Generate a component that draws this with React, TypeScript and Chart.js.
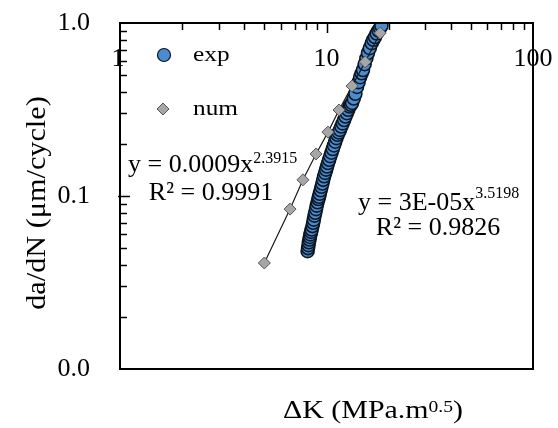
import { useEffect, useRef } from 'react';
import { Chart, registerables } from 'chart.js';

Chart.register(...registerables);

// Crack growth rate vs. stress intensity factor range
const expDK = [8.10, 8.14, 8.18, 8.22, 8.27, 8.31, 8.36, 8.42, 8.48, 8.55, 8.62, 8.68, 8.75, 8.82, 8.90, 8.97, 9.05, 9.13, 9.20, 9.28, 9.37, 9.46, 9.55, 9.64, 9.74, 9.85, 9.96, 10.06, 10.17, 10.30, 10.43, 10.57, 10.72, 10.87, 11.02, 11.17, 11.32, 11.47, 11.62, 11.80, 11.98, 12.17, 12.36, 12.55, 12.74, 12.93, 13.12, 13.30, 13.55, 13.80, 14.05, 14.30, 14.55, 14.80, 15.02, 15.30, 15.60, 15.88, 16.20, 16.55, 16.85, 17.17, 17.50, 17.85, 18.16, 18.45];
const expRate = [0.048, 0.050, 0.052, 0.054, 0.056, 0.058, 0.060, 0.062, 0.064, 0.067, 0.070, 0.073, 0.077, 0.080, 0.084, 0.088, 0.092, 0.096, 0.099, 0.103, 0.108, 0.113, 0.118, 0.124, 0.130, 0.136, 0.142, 0.148, 0.155, 0.162, 0.170, 0.178, 0.187, 0.196, 0.206, 0.216, 0.226, 0.233, 0.241, 0.252, 0.263, 0.275, 0.288, 0.301, 0.315, 0.329, 0.337, 0.345, 0.366, 0.390, 0.427, 0.455, 0.486, 0.512, 0.535, 0.578, 0.625, 0.671, 0.715, 0.765, 0.800, 0.830, 0.870, 0.905, 0.935, 0.965];

const numDK = [5.0, 6.66, 7.69, 8.9, 10.17, 11.5, 13.3, 15.4, 18.2];
const numRate = [0.041, 0.084, 0.124, 0.175, 0.234, 0.314, 0.432, 0.596, 0.875];

const xTickValues = [1, 10, 100];
const xTickLabels = ['1', '10', '100'];
const yTickValues = [1, 0.1, 0.01];
const yTickLabels = ['1.0', '0.1', '0.0'];
const minorSteps = [2, 3, 4, 5, 6, 7, 8, 9];

const SERIF = '"Liberation Serif", "Times New Roman", serif';
const EXP_FILL = '#4a8ccf';
const EXP_EDGE = '#0c1622';
const NUM_FILL = '#a6a6a6';
const NUM_EDGE = '#555555';

function drawStretched(ctx: CanvasRenderingContext2D, text: string, x: number, y: number, sx: number) {
  ctx.save();
  ctx.translate(x, y);
  ctx.scale(sx, 1);
  ctx.textAlign = 'left';
  ctx.fillText(text, 0, 0);
  ctx.restore();
}

// Text with a superscript tail, laid out from a left x
function drawWithSup(ctx: CanvasRenderingContext2D, main: string, sup: string, x: number, y: number, mainPx: number, supPx: number, supRise: number) {
  ctx.font = `${mainPx}px ${SERIF}`;
  ctx.textAlign = 'left';
  ctx.fillText(main, x, y);
  const w = ctx.measureText(main).width;
  ctx.font = `${supPx}px ${SERIF}`;
  ctx.fillText(sup, x + w, y - supRise);
}

const decorPlugin = {
  id: 'decor',
  afterDraw(chart: any) {
    const { ctx, chartArea } = chart;
    const { left, top, right, bottom } = chartArea;
    const xs = chart.scales.x;
    const ys = chart.scales.y;
    ctx.save();
    ctx.fillStyle = '#000';
    ctx.strokeStyle = '#000';

    // inward tick marks on top and left
    ctx.lineWidth = 1.5;
    ctx.beginPath();
    for (const dec of [1, 10]) {
      for (const m of minorSteps) {
        const px = Math.round(xs.getPixelForValue(dec * m)) + 0.5;
        ctx.moveTo(px, top);
        ctx.lineTo(px, top + 7);
      }
    }
    for (const dec of [0.01, 0.1]) {
      for (const m of minorSteps) {
        const py = Math.round(ys.getPixelForValue(dec * m)) + 0.5;
        ctx.moveTo(left, py);
        ctx.lineTo(left + 7, py);
      }
    }
    const px10 = Math.round(xs.getPixelForValue(10)) + 0.5;
    ctx.moveTo(px10, top);
    ctx.lineTo(px10, top + 10);
    const py01 = Math.round(ys.getPixelForValue(0.1)) + 0.5;
    ctx.moveTo(left - 2, py01);
    ctx.lineTo(left + 10, py01);
    ctx.stroke();

    // frame
    ctx.lineWidth = 2;
    ctx.strokeRect(left, top, right - left, bottom - top);

    // x tick labels (inside the plot, under the top edge)
    ctx.font = `26px ${SERIF}`;
    ctx.textAlign = 'center';
    ctx.textBaseline = 'alphabetic';
    xTickValues.forEach((v, i) => {
      const px = xs.getPixelForValue(v);
      ctx.fillText(xTickLabels[i], px - (i === 0 ? 2 : 0), top + 43);
    });

    // y tick labels
    ctx.textAlign = 'right';
    yTickValues.forEach((v, i) => {
      const py = ys.getPixelForValue(v);
      ctx.fillText(yTickLabels[i], 90, py + 7);
    });

    // x axis title
    {
      const sx = 1.15;
      const mainPx = 26;
      const supPx = 17;
      ctx.font = `${mainPx}px ${SERIF}`;
      const a = 'ΔK (MPa.m';
      const c = ')';
      const wa = ctx.measureText(a).width;
      const wc = ctx.measureText(c).width;
      ctx.font = `${supPx}px ${SERIF}`;
      const b = '0.5';
      const wb = ctx.measureText(b).width;
      const total = (wa + wb + wc) * sx;
      let x0 = 373 - total / 2;
      const base = 418;
      ctx.font = `${mainPx}px ${SERIF}`;
      drawStretched(ctx, a, x0, base, sx);
      x0 += wa * sx;
      ctx.font = `${supPx}px ${SERIF}`;
      drawStretched(ctx, b, x0, base - 6, sx);
      x0 += wb * sx;
      ctx.font = `${mainPx}px ${SERIF}`;
      drawStretched(ctx, c, x0, base, sx);
    }

    // y axis title
    {
      ctx.save();
      ctx.font = `28px ${SERIF}`;
      const t = 'da/dN (μm/cycle)';
      const sx = 1.08;
      const w = ctx.measureText(t).width * sx;
      ctx.translate(45, 203);
      ctx.rotate(-Math.PI / 2);
      drawStretched(ctx, t, -w / 2, 0, sx);
      ctx.restore();
    }

    // legend
    ctx.lineWidth = 1.2;
    ctx.beginPath();
    ctx.arc(164, 55, 6.5, 0, Math.PI * 2);
    ctx.fillStyle = EXP_FILL;
    ctx.fill();
    ctx.strokeStyle = EXP_EDGE;
    ctx.stroke();
    ctx.lineWidth = 1;
    ctx.beginPath();
    ctx.moveTo(163, 103);
    ctx.lineTo(169, 109);
    ctx.lineTo(163, 115);
    ctx.lineTo(157, 109);
    ctx.closePath();
    ctx.fillStyle = NUM_FILL;
    ctx.fill();
    ctx.strokeStyle = NUM_EDGE;
    ctx.stroke();
    ctx.fillStyle = '#000';
    ctx.font = `22px ${SERIF}`;
    drawStretched(ctx, 'exp', 193, 61, 1.15);
    drawStretched(ctx, 'num', 193, 115, 1.15);

    // power-law fit annotations
    drawWithSup(ctx, 'y = 0.0009x', '2.3915', 128, 172, 26, 16, 9);
    ctx.font = `26px ${SERIF}`;
    ctx.textAlign = 'center';
    ctx.fillText('R² = 0.9991', 211, 200);

    drawWithSup(ctx, 'y = 3E-05x', '3.5198', 358, 210, 26, 16, 12);
    ctx.font = `26px ${SERIF}`;
    ctx.textAlign = 'center';
    ctx.fillText('R² = 0.9826', 438, 235);

    ctx.restore();
  },
};

export default function App() {
  const canvasRef = useRef<HTMLCanvasElement | null>(null);

  useEffect(() => {
    const canvas = canvasRef.current;
    if (!canvas) return;
    const chart = new Chart(canvas, {
      type: 'scatter',
      data: {
        datasets: [
          {
            label: 'num',
            order: 0,
            data: numDK.map((x, i) => ({ x, y: numRate[i] })),
            showLine: true,
            borderColor: '#1a1a1a',
            borderWidth: 1.2,
            pointStyle: 'rectRot',
            pointRadius: 6,
            pointBackgroundColor: NUM_FILL,
            pointBorderColor: NUM_EDGE,
            pointBorderWidth: 1,
          },
          {
            label: 'exp',
            order: 1,
            data: expDK.map((x, i) => ({ x, y: expRate[i] })),
            pointStyle: 'circle',
            pointRadius: 6.5,
            pointBackgroundColor: EXP_FILL,
            pointBorderColor: EXP_EDGE,
            pointBorderWidth: 1.6,
          },
        ],
      },
      options: {
        animation: false,
        responsive: false,
        events: [],
        layout: { padding: { left: 120, top: 23, right: 25, bottom: 59 } },
        plugins: { legend: { display: false }, tooltip: { enabled: false } },
        scales: {
          x: { type: 'logarithmic', min: 1, max: 100, display: false },
          y: { type: 'logarithmic', min: 0.01, max: 1, display: false },
        },
      },
      plugins: [decorPlugin],
    });
    return () => chart.destroy();
  }, []);

  return (
    <div style={{ position: 'absolute', left: 0, top: 0, width: 558, height: 428, background: '#fff' }}>
      <canvas ref={canvasRef} width={558} height={428} />
    </div>
  );
}
